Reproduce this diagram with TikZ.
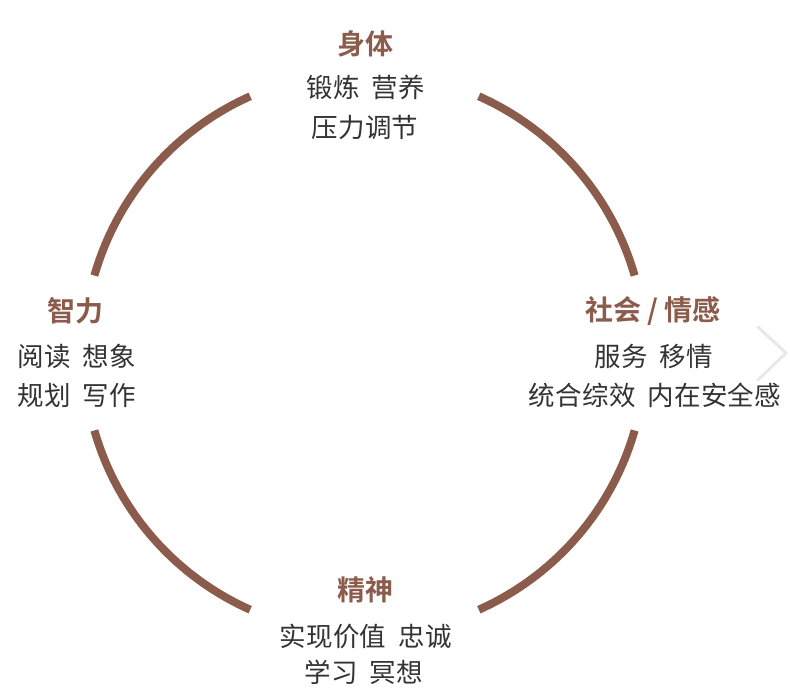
\documentclass[tikz,border=0pt]{standalone}
\usepackage{fontspec}
\setmainfont{Noto Sans CJK SC}[LetterSpace=1]
\newfontfamily\headfont{Noto Sans CJK SC Bold}
\definecolor{arcbrown}{HTML}{8B5B4B}
\definecolor{bodygray}{HTML}{333333}
\newcommand\wgap{\hspace{12pt}}
\begin{document}
\begin{tikzpicture}[x=1pt,y=1pt,
  ring/.style={line width=8pt,color=arcbrown,line cap=butt},
  head/.style={inner sep=0pt,text=arcbrown,font=\headfont\fontsize{28}{28}\selectfont},
  body/.style={inner sep=0pt,text=bodygray,font=\fontsize{26.5}{26.5}\selectfont},
  chev/.style={line width=3pt,color=black!9,line cap=round,line join=round}]
\path[use as bounding box] (0,0) rectangle (790,-695);
\coordinate (c) at (364.5,-353);
% ring arcs
\draw[ring] (c) ++(16:281) arc[start angle=16,end angle=66,radius=281];
\draw[ring] (c) ++(114:281) arc[start angle=114,end angle=164,radius=281];
\draw[ring] (c) ++(196:281) arc[start angle=196,end angle=246,radius=281];
\draw[ring] (c) ++(294:281) arc[start angle=294,end angle=344,radius=281];
% top
\node[head] (t0) at (365,-44) {身体};
\node[body] (t1) at (366,-87) {锻炼\wgap 营养};
\node[body] (t2) at (365,-127) {压力调节};
% left
\node[head] (l0) at (75,-311) {智力};
\node[body] (l1) at (77,-356) {阅读\wgap 想象};
\node[body] (l2) at (77,-395) {规划\wgap 写作};
% right
\node[head] (r0) at (653,-311) {社会 / 情感};
\node[body] (r1) at (654,-356) {服务\wgap 移情};
\node[body] (r2) at (655,-395) {统合综效\wgap 内在安全感};
% bottom
\node[head] (b0) at (365,-590) {精神};
\node[body] (b1) at (365.5,-636) {实现价值\wgap 忠诚};
\node[body] (b2) at (364,-672) {学习\wgap 冥想};
% faint chevron
\coordinate (ch1) at (758,-327);
\coordinate (ch2) at (786,-353);
\coordinate (ch3) at (758,-380);
\draw[chev] (ch1) -- (ch2) -- (ch3);
\end{tikzpicture}
\end{document}
